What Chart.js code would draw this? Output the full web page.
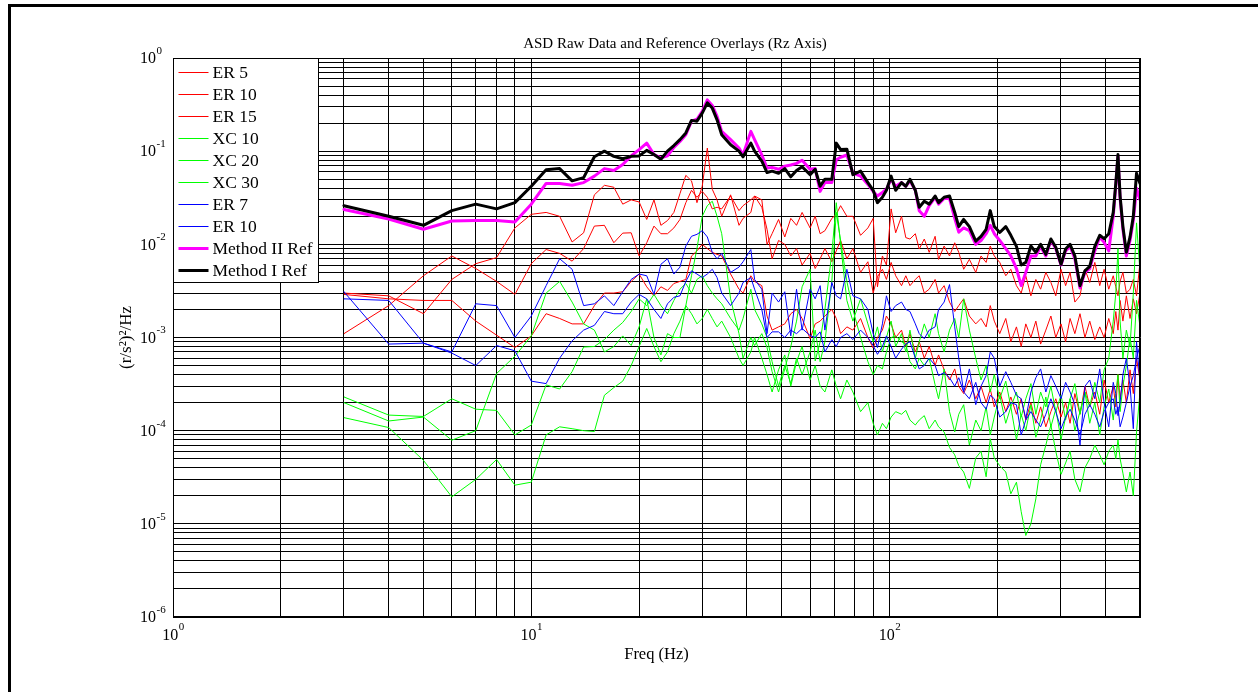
<!DOCTYPE html>
<html>
<head>
<meta charset="utf-8">
<script src="https://cdn.jsdelivr.net/npm/chart.js@4.4.1/dist/chart.umd.min.js"></script>
<style>
html,body{margin:0;padding:0;background:#fff;overflow:hidden}
#wrap{position:relative;width:1258px;height:692px;background:#fff}
canvas{display:block}
</style>
</head>
<body>
<div id="wrap"><canvas id="c" width="1258" height="692"></canvas></div>
<script>
// ---------------- data ----------------
const FREQ = [
  3,4,5,6,7,8,9,10,11,12,
  13,14,15,16,17,18,19,20,21,22,
  23,24,25,26,27,28,29,30,31,32,
  33,34,36,38,39,41,42,44,45.5,47,
  49,51,53,55,57,60,62,64,66,69,
  71,73,76,79,83,87,90,92.5,95.5,98,
  101,104,108,111,114,118,121,125,129,134,
  137,142,147,152,156,161,167,174,180,186,
  191,196,203,211,218,226,233,240,248,256,
  264,273,282,291,301,310,319,329,340,351,
  362,374,386,397,409,421,428,434,440,448,
  458,469,479,489,500
];

const ER5_RED = [
  1.1e-3,2.2e-3,4.6e-3,7.5e-3,5.5e-3,4.0e-3,2.9e-3,6.2e-3,8.8e-3,8.0e-3,
  6.6e-3,9.0e-3,1.57e-2,1.6e-2,1.04e-2,1.32e-2,1.33e-2,7.5e-3,1.04e-2,1.57e-2,
  1.3e-2,1.3e-2,1.5e-2,1.85e-2,2.8e-2,3.8e-2,3.2e-2,3.7e-2,3.2e-2,2.4e-2,
  2.5e-2,2.4e-2,3.3e-2,2.3e-2,2.6e-2,3.0e-2,3.3e-2,2.5e-2,1.45e-2,7.0e-3,
  1.1e-2,1.0e-2,7.5e-3,9.0e-3,6.0e-3,8.0e-3,5.5e-3,7.0e-3,9.0e-3,6.5e-3,
  8.5e-3,1.1e-2,7.0e-3,9.0e-3,5.0e-3,6.5e-3,3.0e-3,4.5e-3,5.4e-3,4.2e-3,
  6.4e-3,4.6e-3,3.6e-3,4.6e-3,3.6e-3,4.2e-3,4.6e-3,3.0e-3,3.3e-3,4.2e-3,
  3.0e-3,3.6e-3,2.4e-3,1.9e-3,2.2e-3,2.6e-3,1.7e-3,1.4e-3,1.6e-3,1.3e-3,
  2.2e-3,1.5e-3,1.1e-3,1.6e-3,9.0e-4,1.3e-3,8.0e-4,1.4e-3,1.0e-3,1.5e-3,
  8.5e-4,1.2e-3,1.7e-3,1.0e-3,1.4e-3,9.0e-4,1.6e-3,1.1e-3,1.8e-3,1.0e-3,
  1.5e-3,9.5e-4,1.3e-3,1.0e-3,1.6e-3,1.1e-3,1.9e-3,1.2e-3,2.5e-3,1.5e-3,
  2.8e-3,1.6e-3,2.6e-3,1.8e-3,3.0e-3
];

const ER10_RED = [
  3.0e-3,2.8e-3,1.8e-3,4.2e-3,6.2e-3,7.2e-3,1.5e-2,2.1e-2,2.2e-2,2.0e-2,
  1.06e-2,1.33e-2,3.4e-2,4.3e-2,4.1e-2,2.7e-2,3.0e-2,2.85e-2,1.85e-2,3.0e-2,
  1.6e-2,1.8e-2,2.2e-2,3.5e-2,5.5e-2,4.8e-2,2.8e-2,4.2e-2,1.08e-1,3.9e-2,
  3.0e-2,2.0e-2,3.4e-2,1.6e-2,1.9e-2,2.2e-2,3.3e-2,3.0e-2,1.0e-2,1.3e-2,
  1.85e-2,1.2e-2,1.9e-2,1.6e-2,2.2e-2,1.5e-2,2.0e-2,1.3e-2,1.4e-2,1.9e-2,
  2.1e-2,2.6e-2,2.0e-2,2.0e-2,1.25e-2,1.5e-2,1.9e-2,3.5e-3,7.5e-3,6.0e-3,
  2.4e-2,1.33e-2,2.0e-2,1.18e-2,1.14e-2,1.3e-2,8.9e-3,1.14e-2,8.2e-3,1.22e-2,
  6.9e-3,9.6e-3,7.5e-3,1.04e-2,8.2e-3,5.4e-3,6.9e-3,5.0e-3,7.5e-3,6.4e-3,
  9.6e-3,7.5e-3,6.4e-3,4.6e-3,5.4e-3,3.6e-3,3.0e-3,4.6e-3,2.8e-3,4.2e-3,
  3.3e-3,5.0e-3,3.9e-3,2.8e-3,5.4e-3,3.6e-3,5.0e-3,2.4e-3,2.8e-3,5.4e-3,
  3.9e-3,6.4e-3,3.6e-3,5.4e-3,3.3e-3,4.6e-3,3.5e-3,2.8e-3,4.0e-3,5.0e-3,
  3.0e-3,3.3e-3,4.2e-3,2.8e-3,6.4e-3
];

const ER15_RED = [
  2.9e-3,2.6e-3,2.5e-3,2.5e-3,1.5e-3,1.06e-3,7.8e-4,1.04e-3,1.8e-3,1.6e-3,
  1.4e-3,1.4e-3,2.2e-3,3.0e-3,3.0e-3,3.1e-3,4.0e-3,4.8e-3,3.5e-3,2.8e-3,
  3.5e-3,3.2e-3,3.8e-3,4.0e-3,4.2e-3,7.5e-3,8.5e-3,1.0e-2,9.0e-3,8.2e-3,
  7.8e-3,7.5e-3,4.8e-3,3.3e-3,3.0e-3,4.6e-3,4.0e-3,3.6e-3,1.7e-3,1.2e-3,
  1.3e-3,1.4e-3,1.8e-3,2.0e-3,1.6e-3,9.7e-4,1.4e-3,1.5e-3,1.7e-3,2.0e-3,
  1.6e-3,1.1e-3,1.3e-3,1.2e-3,1.6e-3,1.0e-3,7.7e-4,1.0e-3,1.2e-3,1.7e-3,
  1.4e-3,1.0e-3,1.2e-3,8.0e-4,1.1e-3,7.0e-4,9.0e-4,6.0e-4,8.0e-4,5.0e-4,
  6.5e-4,4.5e-4,3.5e-4,4.6e-4,3.0e-4,2.5e-4,3.5e-4,2.2e-4,3.0e-4,2.0e-4,
  2.8e-4,1.8e-4,2.6e-4,1.6e-4,2.3e-4,1.5e-4,2.2e-4,1.3e-4,2.0e-4,1.2e-4,
  1.8e-4,1.1e-4,1.6e-4,2.2e-4,1.4e-4,2.0e-4,1.2e-4,2.5e-4,1.5e-4,3.0e-4,
  1.8e-4,2.6e-4,1.5e-4,3.5e-4,2.0e-4,3.0e-4,1.8e-4,4.0e-4,2.2e-4,3.5e-4,
  2.0e-4,4.5e-4,2.5e-4,6.0e-4,3.5e-4
];

const XC10_GREEN = [
  2.3e-4,1.47e-4,1.42e-4,2.2e-4,1.7e-4,1.65e-4,9.0e-5,1.15e-4,3.1e-4,2.8e-4,
  4.3e-4,7.9e-4,8.0e-4,9.5e-4,1.2e-3,1.45e-3,1.9e-3,2.6e-3,2.2e-3,2.9e-3,
  2.2e-3,1.8e-3,2.5e-3,3.3e-3,3.8e-3,3.0e-3,4.2e-3,4.6e-3,3.6e-3,3.0e-3,
  2.6e-3,2.3e-3,1.6e-3,1.2e-3,1.6e-3,3.3e-3,2.0e-3,1.4e-3,1.0e-3,5.5e-4,
  3.0e-4,5.0e-4,3.2e-4,6.0e-4,4.0e-4,7.0e-4,1.2e-3,5.5e-4,9.0e-4,4.0e-3,
  2.2e-2,1.1e-2,4.0e-3,2.0e-3,1.0e-3,5.5e-4,4.0e-4,5.0e-4,4.6e-4,7.0e-4,
  1.0e-3,1.04e-3,9.0e-4,8.5e-4,5.5e-4,4.6e-4,6.0e-4,5.0e-4,6.0e-4,3.1e-4,
  2.2e-4,4.6e-4,1.6e-4,9.7e-5,1.5e-4,1.9e-4,7.0e-5,1.3e-4,1.0e-4,1.8e-4,
  9.0e-5,1.4e-4,2.4e-4,1.2e-4,1.8e-4,8.0e-5,1.5e-4,1.0e-4,1.9e-4,8.5e-5,
  1.3e-4,2.3e-4,1.1e-4,1.7e-4,8.0e-5,1.4e-4,2.2e-4,1.0e-4,1.6e-4,2.6e-4,
  1.2e-4,2.0e-4,9.0e-5,1.8e-4,2.8e-4,1.3e-4,2.5e-4,4.0e-4,1.6e-4,3.0e-4,
  5.0e-4,1.0e-3,6.0e-4,2.5e-3,1.3e-3
];

const XC20_GREEN = [
  2.0e-4,1.27e-4,1.4e-4,7.9e-5,1.0e-4,4.1e-4,6.3e-4,1.04e-3,3.0e-3,4.0e-3,
  2.4e-3,1.4e-3,1.2e-3,7.0e-4,8.0e-4,1.04e-3,8.2e-4,1.3e-3,2.6e-3,1.0e-3,
  6.5e-4,1.1e-3,1.0e-3,1.0e-3,2.2e-3,4.6e-3,9.0e-3,2.0e-2,2.6e-2,2.9e-2,
  2.0e-2,1.3e-2,2.6e-3,1.1e-3,6.0e-4,1.0e-3,8.2e-4,1.1e-3,7.8e-4,4.3e-4,
  2.6e-4,4.6e-4,8.0e-4,1.5e-3,3.5e-3,5.4e-3,5.6e-4,9.0e-4,2.0e-3,8.0e-3,
  2.8e-2,1.0e-2,2.5e-3,1.5e-3,2.6e-3,1.4e-3,9.0e-4,1.3e-3,7.0e-4,1.0e-3,
  1.5e-3,8.0e-4,1.1e-3,7.0e-4,1.2e-3,6.0e-4,9.0e-4,1.4e-3,1.0e-3,1.8e-3,
  1.1e-3,7.0e-4,1.2e-3,1.6e-3,1.0e-3,2.6e-3,1.2e-3,6.0e-4,3.5e-4,5.0e-4,
  2.6e-4,4.0e-4,2.2e-4,3.4e-4,1.8e-4,2.6e-4,1.4e-4,2.2e-4,3.2e-4,1.5e-4,
  2.6e-4,1.8e-4,3.0e-4,1.6e-4,2.4e-4,1.3e-4,2.2e-4,3.2e-4,1.5e-4,2.6e-4,
  1.8e-4,3.3e-4,2.0e-4,4.5e-4,6.0e-4,1.5e-3,3.0e-3,9.0e-3,1.5e-3,6.0e-4,
  1.2e-3,8.0e-4,3.0e-3,1.7e-2,5.0e-3
];

const XC30_GREEN = [
  1.38e-4,1.08e-4,4.8e-5,1.95e-5,3.0e-5,4.9e-5,2.6e-5,2.8e-5,9.0e-5,1.1e-4,
  1.05e-4,1.0e-4,9.8e-5,2.4e-4,2.9e-4,3.4e-4,5.0e-4,8.0e-4,1.25e-3,8.0e-4,
  5.5e-4,7.0e-4,1.1e-3,1.5e-3,2.2e-3,1.8e-3,1.4e-3,1.6e-3,2.0e-3,1.6e-3,
  1.3e-3,1.5e-3,1.0e-3,6.0e-4,5.0e-4,7.0e-4,1.0e-3,6.0e-4,4.0e-4,2.6e-4,
  4.5e-4,6.5e-4,3.0e-4,5.5e-4,8.0e-4,3.5e-4,5.0e-4,3.0e-4,2.6e-4,4.5e-4,
  3.0e-4,2.2e-4,3.5e-4,2.6e-4,1.6e-4,2.0e-4,1.2e-4,9.0e-5,1.2e-4,1.05e-4,
  1.4e-4,1.6e-4,1.5e-4,1.65e-4,1.3e-4,1.15e-4,1.3e-4,1.45e-4,1.05e-4,1.3e-4,
  1.1e-4,9.7e-5,6.6e-5,5.5e-5,4.2e-5,3.6e-5,2.4e-5,5.1e-5,6.0e-5,3.2e-5,
  8.2e-5,5.1e-5,4.2e-5,3.6e-5,2.1e-5,2.8e-5,1.35e-5,7.5e-6,1.0e-5,1.85e-5,
  4.3e-5,7.0e-5,1.15e-4,6.0e-5,3.4e-5,4.5e-5,6.0e-5,3.0e-5,2.2e-5,4.0e-5,
  5.0e-5,7.0e-5,5.5e-5,4.3e-5,6.0e-5,7.0e-5,5.0e-5,8.0e-5,5.0e-5,3.5e-5,
  2.2e-5,3.6e-5,2.0e-5,9.7e-5,2.6e-4
];

const ER7_BLUE = [
  3.1e-3,8.5e-4,8.7e-4,7.0e-4,2.3e-3,2.2e-3,1.0e-3,1.7e-3,3.6e-3,7.0e-3,
  5.4e-3,2.2e-3,2.3e-3,2.8e-3,2.2e-3,3.1e-3,4.2e-3,4.8e-3,4.6e-3,2.9e-3,
  6.1e-3,7.0e-3,4.8e-3,5.7e-3,9.6e-3,1.22e-2,1.28e-2,1.4e-2,1.2e-2,8.2e-3,
  7.0e-3,8.0e-3,5.0e-3,5.7e-3,6.5e-3,8.8e-3,4.2e-3,3.3e-3,1.1e-3,3.0e-3,
  2.4e-3,3.1e-3,1.04e-3,3.3e-3,1.2e-3,3.3e-3,2.6e-3,3.6e-3,1.2e-3,3.9e-3,
  2.8e-3,2.6e-3,5.4e-3,2.8e-3,2.6e-3,2.0e-3,1.1e-3,7.8e-4,1.4e-3,2.8e-3,
  1.9e-3,2.2e-3,2.4e-3,2.0e-3,1.9e-3,1.4e-3,1.1e-3,9.7e-4,1.2e-3,1.3e-3,
  2.0e-3,2.4e-3,3.7e-3,1.3e-3,6.0e-4,2.6e-4,4.6e-4,1.9e-4,3.0e-4,3.9e-4,
  7.0e-4,6.0e-4,3.0e-4,4.3e-4,3.3e-4,2.4e-4,2.2e-4,1.35e-4,2.6e-4,3.7e-4,
  4.6e-4,2.6e-4,3.9e-4,3.0e-4,2.2e-4,3.3e-4,2.6e-4,1.9e-4,7.0e-5,3.0e-4,
  3.5e-4,2.2e-4,4.6e-4,2.0e-4,1.1e-4,3.3e-4,2.5e-4,1.45e-4,2.0e-4,4.0e-4,
  6.0e-4,3.0e-4,1.05e-4,9.0e-4,3.4e-4
];

const ER10_BLUE = [
  2.6e-3,2.5e-3,8.7e-4,6.8e-4,5.0e-4,8.2e-4,7.2e-4,3.4e-4,3.2e-4,6.0e-4,
  9.2e-4,1.2e-3,1.35e-3,1.9e-3,1.8e-3,1.8e-3,2.4e-3,2.9e-3,2.6e-3,2.0e-3,
  1.6e-3,2.3e-3,2.7e-3,2.8e-3,4.0e-3,5.2e-3,4.8e-3,4.4e-3,4.8e-3,5.4e-3,
  4.4e-3,3.0e-3,2.2e-3,3.0e-3,3.9e-3,4.4e-3,3.3e-3,2.0e-3,1.0e-3,1.15e-3,
  1.15e-3,1.0e-3,1.2e-3,1.1e-3,1.25e-3,1.05e-3,1.0e-3,1.15e-3,7.0e-4,9.5e-4,
  8.0e-4,1.0e-3,1.1e-3,9.5e-4,1.2e-3,1.0e-3,8.2e-4,6.6e-4,8.0e-4,1.04e-3,
  8.0e-4,6.0e-4,7.5e-4,8.5e-4,9.0e-4,6.0e-4,4.6e-4,5.0e-4,6.0e-4,5.0e-4,
  3.9e-4,4.2e-4,3.7e-4,3.0e-4,3.7e-4,2.6e-4,2.2e-4,3.3e-4,2.0e-4,1.7e-4,
  2.4e-4,2.2e-4,1.4e-4,1.6e-4,2.0e-4,1.9e-4,9.0e-5,1.3e-4,1.6e-4,1.3e-4,
  1.1e-4,1.5e-4,2.2e-4,1.6e-4,1.05e-4,1.4e-4,1.7e-4,1.3e-4,9.0e-5,1.5e-4,
  1.9e-4,1.5e-4,1.1e-4,1.6e-4,2.0e-4,2.2e-4,1.5e-4,1.8e-4,1.1e-4,1.4e-4,
  2.0e-4,3.0e-4,3.9e-4,6.0e-4,8.2e-4
];

const METHOD2_REF = [
  2.37e-2,1.87e-2,1.45e-2,1.78e-2,1.8e-2,1.8e-2,1.74e-2,2.7e-2,4.5e-2,4.5e-2,
  4.3e-2,4.6e-2,5.4e-2,6.5e-2,6.2e-2,7.2e-2,8.9e-2,1.04e-1,1.22e-1,9.2e-2,
  8.5e-2,8.9e-2,1.1e-1,1.27e-1,1.5e-1,2.1e-1,2.2e-1,2.67e-1,3.55e-1,3.1e-1,
  2.36e-1,1.63e-1,1.33e-1,1.08e-1,9.1e-2,1.63e-1,1.33e-1,9.1e-2,6.6e-2,6.7e-2,
  6.4e-2,6.9e-2,7.1e-2,7.4e-2,8.0e-2,6.4e-2,6.5e-2,3.7e-2,4.6e-2,4.6e-2,
  8.1e-2,8.6e-2,9.1e-2,5.8e-2,5.4e-2,4.4e-2,3.7e-2,3.3e-2,3.6e-2,3.9e-2,
  5.0e-2,4.2e-2,4.6e-2,4.2e-2,4.8e-2,3.8e-2,2.3e-2,2.0e-2,2.6e-2,3.2e-2,
  2.7e-2,3.1e-2,3.1e-2,1.9e-2,1.35e-2,1.5e-2,1.4e-2,1.0e-2,1.1e-2,1.3e-2,
  1.6e-2,1.3e-2,1.1e-2,9.0e-3,7.5e-3,5.5e-3,3.6e-3,5.0e-3,7.5e-3,7.5e-3,
  9.5e-3,7.5e-3,1.1e-2,9.0e-3,6.0e-3,8.5e-3,9.5e-3,7.0e-3,3.4e-3,5.0e-3,
  5.5e-3,8.5e-3,1.2e-2,1.05e-2,8.5e-3,2.0e-2,4.3e-2,8.8e-2,3.1e-2,1.45e-2,
  7.5e-3,1.1e-2,1.8e-2,4.0e-2,3.0e-2
];

const METHOD1_REF = [
  2.6e-2,2.0e-2,1.6e-2,2.3e-2,2.7e-2,2.4e-2,2.8e-2,4.2e-2,6.3e-2,6.5e-2,
  4.8e-2,5.2e-2,8.7e-2,1.0e-1,8.8e-2,8.3e-2,8.8e-2,8.9e-2,1.02e-1,9.2e-2,
  8.2e-2,1.0e-1,1.15e-1,1.33e-1,1.57e-1,2.14e-1,2.1e-1,2.56e-1,3.3e-1,2.9e-1,
  2.17e-1,1.5e-1,1.17e-1,1.0e-1,8.7e-2,1.22e-1,1.0e-1,7.8e-2,5.9e-2,6.1e-2,
  5.8e-2,6.5e-2,5.3e-2,6.2e-2,6.8e-2,5.6e-2,6.4e-2,4.2e-2,5.0e-2,5.0e-2,
  1.22e-1,1.04e-1,1.05e-1,5.6e-2,6.1e-2,4.6e-2,3.8e-2,2.8e-2,3.2e-2,3.8e-2,
  5.4e-2,3.8e-2,4.6e-2,4.2e-2,5.0e-2,3.8e-2,2.5e-2,2.9e-2,2.7e-2,3.3e-2,
  2.8e-2,3.2e-2,3.3e-2,2.2e-2,1.55e-2,1.85e-2,1.55e-2,1.08e-2,1.22e-2,1.45e-2,
  2.3e-2,1.55e-2,1.34e-2,1.55e-2,1.25e-2,9.5e-3,6.0e-3,6.4e-3,9.6e-3,8.2e-3,
  1.0e-2,7.8e-3,1.14e-2,9.3e-3,6.1e-3,8.9e-3,1.0e-2,7.5e-3,3.6e-3,5.2e-3,
  5.8e-3,9.5e-3,1.25e-2,1.15e-2,1.3e-2,2.2e-2,4.5e-2,9.2e-2,3.3e-2,1.55e-2,
  8.2e-3,1.2e-2,2.0e-2,5.8e-2,4.5e-2
];

const SERIES_LABELS = ['ER 5','ER 10','ER 15','XC 10','XC 20','XC 30','ER 7','ER 10','Method II Ref','Method I Ref'];

// tick labels: value, base text and exponent text
const X_MAJOR = [1, 10, 100];
const X_MAJOR_EXP = ['0', '1', '2'];
const Y_MAJOR = [1e-6, 1e-5, 1e-4, 1e-3, 1e-2, 1e-1, 1];
const Y_MAJOR_EXP = ['-6', '-5', '-4', '-3', '-2', '-1', '0'];
const TICK_BASE = '10';

const TITLE_TEXT = 'ASD Raw Data and Reference Overlays (Rz Axis)';

// ---------------- styling ----------------
const SERIES_VALUES = [ER5_RED, ER10_RED, ER15_RED, XC10_GREEN, XC20_GREEN, XC30_GREEN, ER7_BLUE, ER10_BLUE, METHOD2_REF, METHOD1_REF];
const SERIES_STYLE = [
  {color: '#ff0000', width: 1},
  {color: '#ff0000', width: 1},
  {color: '#ff0000', width: 1},
  {color: '#00ff00', width: 1},
  {color: '#00ff00', width: 1},
  {color: '#00ff00', width: 1},
  {color: '#0000ff', width: 1},
  {color: '#0000ff', width: 1},
  {color: '#ff00ff', width: 3},
  {color: '#000000', width: 3}
];

function gridValues(lo, hiExp, maxVal) {
  const out = [];
  for (let e = lo; e <= hiExp; e++) {
    for (let m = 1; m <= 9; m++) {
      const v = m * Math.pow(10, e);
      if (v <= maxVal * 1.0000001) out.push(v);
    }
  }
  return out;
}
const X_GRID = gridValues(0, 2, 500);
const Y_GRID = gridValues(-6, 0, 1);

const FONT = 'Liberation Serif';
const BASE_FONT = '16px "' + FONT + '"';
const SUP_FONT = '11px "' + FONT + '"';

const framePlugin = {
  id: 'framePlugin',
  afterDraw(chart) {
    const ctx = chart.ctx;
    const a = chart.chartArea;
    const xs = chart.scales.x, ys = chart.scales.y;
    ctx.save();
    // axes box
    ctx.strokeStyle = '#000';
    ctx.lineWidth = 1;
    ctx.strokeRect(Math.round(a.left) + 0.5, Math.round(a.top) + 0.5,
                   Math.round(a.right - a.left) - 1, Math.round(a.bottom - a.top) - 1);
    ctx.beginPath();
    ctx.moveTo(a.left, Math.round(a.bottom) - 0.5 + 1);
    ctx.lineTo(a.right, Math.round(a.bottom) - 0.5 + 1);
    ctx.stroke();

    // tick labels with raised exponents
    ctx.fillStyle = '#000';
    ctx.textBaseline = 'middle';
    Y_MAJOR.forEach((v, i) => {
      const py = ys.getPixelForValue(v);
      ctx.font = BASE_FONT;
      ctx.textAlign = 'right';
      ctx.fillText(TICK_BASE, a.left - 17, py + 1);
      ctx.font = SUP_FONT;
      ctx.textAlign = 'left';
      ctx.fillText(Y_MAJOR_EXP[i], a.left - 16.5, py - 7);
    });
    X_MAJOR.forEach((v, i) => {
      const px = xs.getPixelForValue(v);
      ctx.font = BASE_FONT;
      const wb = ctx.measureText(TICK_BASE).width;
      ctx.font = SUP_FONT;
      const we = ctx.measureText(X_MAJOR_EXP[i]).width;
      const x0 = px - (wb + we) / 2;
      ctx.font = BASE_FONT;
      ctx.textAlign = 'left';
      ctx.fillText(TICK_BASE, x0, a.bottom + 19);
      ctx.font = SUP_FONT;
      ctx.fillText(X_MAJOR_EXP[i], x0 + wb + 0.5, a.bottom + 10);
    });

    // title
    ctx.font = '15px "' + FONT + '"';
    ctx.textAlign = 'center';
    ctx.fillText(TITLE_TEXT, 675, 44);

    // legend
    const lx = Math.round(a.left) + 0.5, ly = Math.round(a.top) + 0.5;
    const lw = 145, lh = 224;
    ctx.fillStyle = '#fff';
    ctx.fillRect(lx, ly, lw, lh);
    ctx.strokeStyle = '#000';
    ctx.lineWidth = 1;
    ctx.strokeRect(lx, ly, lw, lh);
    ctx.font = '17.5px "' + FONT + '"';
    ctx.textBaseline = 'middle';
    ctx.textAlign = 'left';
    chart.data.datasets.forEach((ds, i) => {
      const y = Math.round(a.top) + 14 + i * 22;
      ctx.beginPath();
      ctx.strokeStyle = ds.borderColor;
      ctx.lineWidth = ds.borderWidth;
      ctx.moveTo(lx + 5, y + 0.5);
      ctx.lineTo(lx + 35, y + 0.5);
      ctx.stroke();
      ctx.fillStyle = '#000';
      ctx.fillText(ds.label, lx + 39, y + 1);
    });

    // figure border (left + top)
    ctx.fillStyle = '#000';
    ctx.fillRect(8, 4, 1258 - 8, 3);
    ctx.fillRect(8, 4, 3, 692 - 4);
    ctx.restore();
  }
};

Chart.defaults.font.family = FONT;
Chart.defaults.color = '#000';

const datasets = SERIES_LABELS.map((label, i) => ({
  label: label,
  data: FREQ.map((f, j) => ({x: f, y: SERIES_VALUES[i][j]})),
  borderColor: SERIES_STYLE[i].color,
  backgroundColor: SERIES_STYLE[i].color,
  borderWidth: SERIES_STYLE[i].width,
  pointRadius: 0,
  fill: false,
  tension: 0,
  borderJoinStyle: 'round',
  borderCapStyle: 'round',
  order: SERIES_LABELS.length - 1 - i
}));

new Chart(document.getElementById('c'), {
  type: 'line',
  data: {datasets: datasets},
  plugins: [framePlugin],
  options: {
    responsive: false,
    animation: false,
    devicePixelRatio: 1,
    events: [],
    layout: {padding: {left: 0, right: 118, top: 58, bottom: 0}},
    plugins: {
      legend: {display: false},
      tooltip: {enabled: false},
      title: {display: false}
    },
    scales: {
      x: {
        type: 'logarithmic',
        min: 1,
        max: 500,
        afterBuildTicks: s => { s.ticks = X_GRID.map(v => ({value: v})); },
        afterFit: s => { s.height = 75; },
        ticks: {display: false, autoSkip: false},
        grid: {color: '#000', lineWidth: 1, drawTicks: false},
        border: {color: '#000', width: 1},
        title: {
          display: true, text: 'Freq (Hz)', color: '#000',
          font: {family: FONT, size: 16.5, lineHeight: 1.2},
          padding: {top: 0, bottom: 27}
        }
      },
      y: {
        type: 'logarithmic',
        min: 1e-6,
        max: 1,
        afterBuildTicks: s => { s.ticks = Y_GRID.map(v => ({value: v})); },
        afterFit: s => { s.width = 173; },
        ticks: {display: false, autoSkip: false},
        grid: {color: '#000', lineWidth: 1, drawTicks: false},
        border: {color: '#000', width: 1},
        title: {
          display: true, text: '(r/s\u00B2)\u00B2/Hz', color: '#000',
          font: {family: FONT, size: 17, lineHeight: 1.2},
          padding: {top: 116, bottom: 0}
        }
      }
    }
  }
});
</script>
</body>
</html>
